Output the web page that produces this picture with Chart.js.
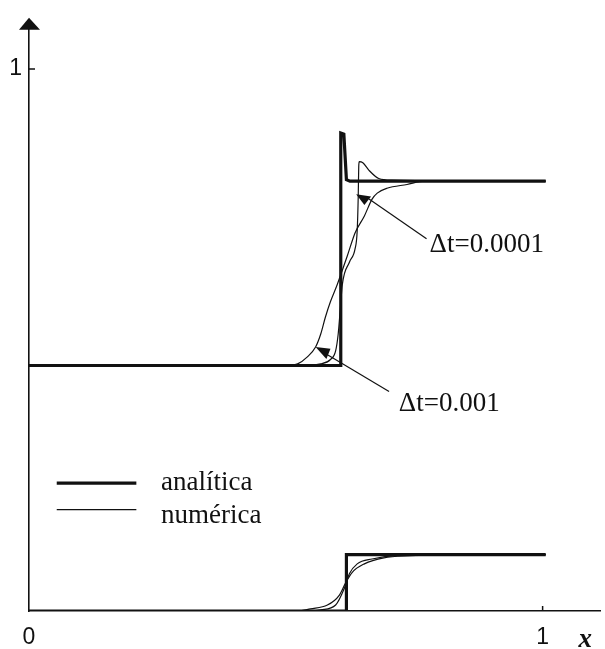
<!DOCTYPE html>
<html>
<head>
<meta charset="utf-8">
<script src="https://cdn.jsdelivr.net/npm/chart.js@4.4.1/dist/chart.umd.min.js"></script>
<style>
  html, body { margin: 0; padding: 0; background: #ffffff; }
  #wrap { width: 605px; height: 649px; position: relative; }
</style>
</head>
<body>
<div id="wrap"><canvas id="c" width="605" height="649"></canvas></div>
<script>
// ---- data ----
const xTickValues = [0, 1, 1.083];
const xTickLabels = ['0', '1', 'x'];
const yTickValues = [1];
const yTickLabels = ['1'];

const legendLabels = ['analítica', 'numérica'];
const annotationLabels = ['Δt=0.0001', 'Δt=0.001'];

// upper profile, analytic
const upAnaX = [0, 0.606, 0.607, 0.613, 0.618, 0.625, 1.006];
const upAnaY = [0.453, 0.453, 0.882, 0.880, 0.796, 0.793, 0.793];
// upper profile, numeric dt=0.001
const upNum1X = [0, 0.504, 0.523, 0.542, 0.558, 0.568, 0.577, 0.587, 0.600, 0.620, 0.635, 0.653, 0.668, 0.678, 0.697, 0.736, 0.770, 1.006];
const upNum1Y = [0.453, 0.453, 0.456, 0.469, 0.487, 0.511, 0.542, 0.571, 0.602, 0.656, 0.698, 0.729, 0.760, 0.771, 0.780, 0.787, 0.793, 0.793];
// upper profile, numeric dt=0.0001
const upNum2X = [0, 0.523, 0.568, 0.587, 0.597, 0.602, 0.606, 0.610, 0.624, 0.635, 0.639, 0.641, 0.642, 0.643, 0.650, 0.662, 0.681, 0.707, 1.006];
const upNum2Y = [0.453, 0.453, 0.456, 0.464, 0.480, 0.511, 0.556, 0.602, 0.644, 0.669, 0.702, 0.765, 0.820, 0.829, 0.827, 0.813, 0.798, 0.795, 0.793];

// lower profile, analytic
const loAnaX = [0, 0.618, 0.618, 1.006];
const loAnaY = [0, 0, 0.104, 0.104];
// lower profile, numeric (wider)
const loNum1X = [0, 0.523, 0.548, 0.581, 0.604, 0.616, 0.629, 0.653, 0.691, 0.741, 0.813, 1.006];
const loNum1Y = [0, 0, 0.004, 0.011, 0.029, 0.051, 0.071, 0.087, 0.098, 0.102, 0.104, 0.104];
// lower profile, numeric (sharper)
const loNum2X = [0, 0.552, 0.568, 0.597, 0.614, 0.624, 0.639, 0.668, 0.716, 1.006];
const loNum2Y = [0, 0, 0.002, 0.011, 0.042, 0.069, 0.087, 0.096, 0.102, 0.104];

// ---- helpers ----
function pts(xs, ys) { return xs.map((x, i) => ({ x: x, y: ys[i] })); }
const INK = '#111111';

function thinDs(xs, ys) {
  return { data: pts(xs, ys), borderColor: INK, borderWidth: 1.2, pointRadius: 0,
           fill: false, tension: 0, cubicInterpolationMode: 'monotone' };
}
function thickDs(xs, ys) {
  return { data: pts(xs, ys), borderColor: INK, borderWidth: 3.2, pointRadius: 0,
           fill: false, tension: 0, borderJoinStyle: 'miter' };
}

// ---- decorations: arrowhead, inner ticks, legend, annotations ----
const deco = {
  id: 'deco',
  afterDraw(chart) {
    const ctx = chart.ctx;
    const xs = chart.scales.x, ys = chart.scales.y;
    const ax = xs.getPixelForValue(0);
    const top = chart.chartArea.top;
    const X = v => xs.getPixelForValue(v);
    const Y = v => ys.getPixelForValue(v);
    ctx.save();
    ctx.fillStyle = INK; ctx.strokeStyle = INK;
    // arrowhead on the y axis
    ctx.beginPath();
    ctx.moveTo(ax - 10, top + 9);
    ctx.lineTo(ax + 11, top + 9);
    ctx.lineTo(ax, top - 3);
    ctx.closePath(); ctx.fill();
    // inner tick marks
    ctx.lineWidth = 1.5;
    ctx.beginPath();
    ctx.moveTo(ax, Y(1)); ctx.lineTo(ax + 6, Y(1));
    ctx.moveTo(X(1), Y(0)); ctx.lineTo(X(1), Y(0) - 5);
    ctx.stroke();

    // legend
    ctx.lineWidth = 3.2;
    ctx.beginPath(); ctx.moveTo(X(0.054), Y(0.236)); ctx.lineTo(X(0.209), Y(0.236)); ctx.stroke();
    ctx.lineWidth = 1.2;
    ctx.beginPath(); ctx.moveTo(X(0.054), Y(0.187)); ctx.lineTo(X(0.209), Y(0.187)); ctx.stroke();
    ctx.font = '27px "Liberation Serif", "DejaVu Serif", serif';
    ctx.textBaseline = 'alphabetic'; ctx.textAlign = 'left';
    ctx.fillText(legendLabels[0], X(0.257), Y(0.224));
    ctx.fillText(legendLabels[1], X(0.257), Y(0.162));

    // annotation dt=0.0001
    ctx.lineWidth = 1.2;
    ctx.beginPath(); ctx.moveTo(X(0.774), Y(0.687)); ctx.lineTo(X(0.662), Y(0.760)); ctx.stroke();
    ctx.beginPath();
    ctx.moveTo(X(0.637), Y(0.769)); ctx.lineTo(X(0.666), Y(0.765)); ctx.lineTo(X(0.653), Y(0.749));
    ctx.closePath(); ctx.fill();
    ctx.fillText(annotationLabels[0], X(0.780), Y(0.662));

    // annotation dt=0.001
    ctx.beginPath(); ctx.moveTo(X(0.577), Y(0.475)); ctx.lineTo(X(0.701), Y(0.405)); ctx.stroke();
    ctx.beginPath();
    ctx.moveTo(X(0.558), Y(0.487)); ctx.lineTo(X(0.587), Y(0.484)); ctx.lineTo(X(0.579), Y(0.465));
    ctx.closePath(); ctx.fill();
    ctx.fillText(annotationLabels[1], X(0.720), Y(0.369));
    ctx.restore();
  }
};

new Chart(document.getElementById('c'), {
  type: 'line',
  data: {
    datasets: [
      thickDs(upAnaX, upAnaY),
      thinDs(upNum1X, upNum1Y),
      thinDs(upNum2X, upNum2Y),
      thickDs(loAnaX, loAnaY),
      thinDs(loNum1X, loNum1Y),
      thinDs(loNum2X, loNum2Y)
    ]
  },
  options: {
    responsive: false,
    animation: false,
    devicePixelRatio: 1,
    layout: { padding: { top: 12, right: 0, left: 0, bottom: 0 } },
    plugins: { legend: { display: false }, tooltip: { enabled: false } },
    scales: {
      x: {
        type: 'linear', position: 'bottom', min: 0, max: 1.112,
        grid: { drawOnChartArea: false, drawTicks: false },
        border: { display: true, color: INK, width: 1.6 },
        afterBuildTicks: s => { s.ticks = xTickValues.map(v => ({ value: v })); },
        afterFit: s => { s.height = 38; },
        ticks: {
          color: INK, padding: 13, autoSkip: false, maxRotation: 0,
          callback: (v, i) => xTickLabels[i],
          font: c => (c.index === 2)
            ? { family: '"Liberation Serif", serif', style: 'italic', weight: 'bold', size: 27 }
            : { family: '"Liberation Sans", Arial, sans-serif', size: 23 }
        }
      },
      y: {
        type: 'linear', min: 0, max: 1.089,
        grid: { drawOnChartArea: false, drawTicks: false },
        border: { display: true, color: INK, width: 1.6 },
        afterBuildTicks: s => { s.ticks = yTickValues.map(v => ({ value: v })); },
        afterFit: s => { s.width = 29; },
        ticks: {
          color: INK, padding: 7,
          callback: (v, i) => yTickLabels[i],
          font: { family: '"Liberation Sans", Arial, sans-serif', size: 23 }
        }
      }
    }
  },
  plugins: [deco]
});
</script>
</body>
</html>
